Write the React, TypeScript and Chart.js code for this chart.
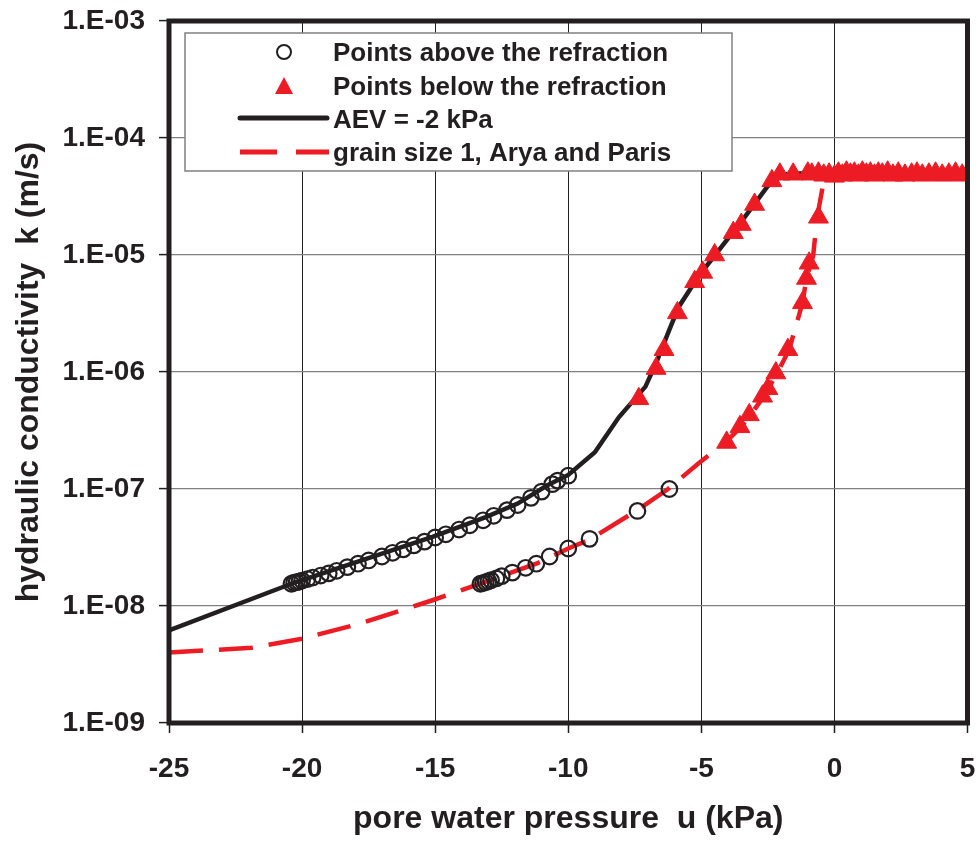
import React, { useEffect, useRef } from 'react';
import { Chart, registerables } from 'chart.js';

Chart.register(...registerables);

const INK = '#231f20';
const RED = '#ed1c24';
const FONT = "'Liberation Sans', Arial, Helvetica, sans-serif";

// AEV = -2 kPa (black solid line)
const aevU = [-25, -20.3, -18.3, -15.1, -13.1, -11.9, -10.8, -10.0, -9.0, -8.1, -7.1, -6.7, -6.2, -5.85, -5.1, -4.25, -3.35, -2.5, -1.9, -1.1, 0, 5];
const aevK = [6.2e-9, 1.58e-8, 2.24e-8, 3.9e-8, 5.75e-8, 7.5e-8, 1.07e-7, 1.32e-7, 2.06e-7, 4.1e-7, 7.5e-7, 1.19e-6, 2.3e-6, 3.6e-6, 6.6e-6, 1.17e-5, 2.14e-5, 3.9e-5, 4.9e-5, 5.0e-5, 4.8e-5, 4.75e-5];

// grain size 1, Arya and Paris (red dashed line)
const apU = [-25, -21.9, -20.0, -17.8, -15.1, -13.3, -12.1, -11.2, -10.0, -9.2, -7.45, -6.25, -5.1, -4.1, -3.5, -3.15, -2.65, -2.15, -1.7, -1.2, -1.05, -0.8, -0.65, -0.4, -0.3, 5];
const apK = [4.0e-9, 4.4e-9, 5.25e-9, 7.1e-9, 1.12e-8, 1.55e-8, 1.95e-8, 2.3e-8, 3.1e-8, 3.7e-8, 6.5e-8, 1.0e-7, 1.66e-7, 2.5e-7, 3.4e-7, 4.3e-7, 6.2e-7, 9.8e-7, 1.55e-6, 3.9e-6, 6.3e-6, 9.8e-6, 2.1e-5, 4.3e-5, 4.6e-5, 4.6e-5];

// Points above the refraction (open circles)
const aboveU = [
  -20.4, -20.3, -20.2, -20.1, -20.0, -19.8, -19.6, -19.3, -19.0, -18.7, -18.3, -17.9, -17.5, -17.0, -16.6, -16.2,
  -15.8, -15.4, -15.0, -14.6, -14.1, -13.7, -13.2, -12.8, -12.3, -11.9, -11.4, -11.0, -10.6, -10.4, -10.0,
  -13.3, -13.2, -13.1, -13.0, -12.9, -12.7, -12.5, -12.1, -11.6, -11.2, -10.7, -10.0, -9.2, -7.4, -6.2,
];
const aboveK = [
  1.55e-8, 1.58e-8, 1.6e-8, 1.62e-8, 1.65e-8, 1.7e-8, 1.75e-8, 1.82e-8, 1.9e-8, 2.0e-8, 2.15e-8, 2.3e-8, 2.45e-8, 2.65e-8, 2.85e-8, 3.05e-8,
  3.3e-8, 3.55e-8, 3.85e-8, 4.1e-8, 4.5e-8, 4.9e-8, 5.4e-8, 5.9e-8, 6.6e-8, 7.3e-8, 8.4e-8, 9.5e-8, 1.1e-7, 1.18e-7, 1.3e-7,
  1.55e-8, 1.57e-8, 1.6e-8, 1.63e-8, 1.66e-8, 1.72e-8, 1.8e-8, 1.93e-8, 2.12e-8, 2.3e-8, 2.65e-8, 3.1e-8, 3.75e-8, 6.5e-8, 1.0e-7,
];

// Points below the refraction (red triangles)
const belowU = [
  -7.35, -6.7, -6.4, -5.9, -5.25, -4.95, -4.5, -3.8, -3.5, -3.0, -2.35, -2.05, -1.55,
  -4.05, -3.55, -3.2, -2.7, -2.5, -2.2, -1.75, -1.2, -1.05, -0.95, -0.6,
  -1.0, -0.85, -0.6, -0.4, -0.2, 0.0, 0.15, 0.3, 0.45, 0.6, 0.75, 0.9, 1.05, 1.2, 1.35, 1.5, 1.65, 1.8, 2.0,
  2.2, 2.4, 2.65, 2.9, 3.1, 3.3, 3.55, 3.8, 4.05, 4.3, 4.55, 4.8, 5.0,
];
const belowK = [
  5.9e-7, 1.07e-6, 1.55e-6, 3.2e-6, 5.9e-6, 7.1e-6, 1.0e-5, 1.55e-5, 1.82e-5, 2.7e-5, 4.3e-5, 4.9e-5, 4.9e-5,
  2.5e-7, 3.4e-7, 4.3e-7, 6.2e-7, 7.2e-7, 9.8e-7, 1.55e-6, 3.9e-6, 6.3e-6, 8.5e-6, 2.1e-5,
  5.0e-5, 4.9e-5, 5.0e-5, 4.8e-5, 4.9e-5, 4.7e-5, 5.0e-5, 4.8e-5, 5.1e-5, 4.9e-5, 5.0e-5, 4.8e-5, 5.1e-5, 4.9e-5, 5.0e-5, 4.8e-5, 5.0e-5, 4.9e-5, 5.1e-5,
  4.8e-5, 5.0e-5, 4.8e-5, 4.9e-5, 5.0e-5, 4.8e-5, 4.9e-5, 5.0e-5, 4.8e-5, 4.9e-5, 5.0e-5, 4.8e-5, 4.9e-5,
];

const yTicks = [1e-9, 1e-8, 1e-7, 1e-6, 1e-5, 1e-4, 1e-3];
const yTickLabels = ['1.E-09', '1.E-08', '1.E-07', '1.E-06', '1.E-05', '1.E-04', '1.E-03'];

const legendLabels = [
  'Points above the refraction',
  'Points below the refraction',
  'AEV = -2 kPa',
  'grain size 1, Arya and Paris',
];

const pts = (us: number[], ks: number[]) => us.map((u, i) => ({ x: u, y: ks[i] }));

const framePlugin = {
  id: 'plotFrame',
  afterDatasetsDraw(chart: any) {
    const { ctx, chartArea: a } = chart;
    ctx.save();
    ctx.strokeStyle = INK;
    ctx.lineWidth = 5;
    ctx.strokeRect(a.left, a.top, a.right - a.left, a.bottom - a.top);
    ctx.restore();
  },
};

const boxLegendPlugin = {
  id: 'boxLegend',
  afterDraw(chart: any) {
    const { ctx, chartArea: a } = chart;
    const x0 = a.left + 16;
    const y0 = a.top + 12;
    const w = 547;
    const h = 138;
    ctx.save();
    ctx.fillStyle = '#ffffff';
    ctx.fillRect(x0, y0, w, h);
    ctx.strokeStyle = '#808080';
    ctx.lineWidth = 1.5;
    ctx.strokeRect(x0, y0, w, h);
    const rows = [19, 53, 86, 119].map((d) => y0 + d);
    const mx = a.left + 115;
    const lx0 = a.left + 71;
    const lx1 = a.left + 158;
    // circle
    ctx.beginPath();
    ctx.strokeStyle = INK;
    ctx.lineWidth = 2;
    ctx.arc(mx, rows[0], 7, 0, Math.PI * 2);
    ctx.stroke();
    // triangle
    ctx.beginPath();
    ctx.fillStyle = RED;
    ctx.moveTo(mx, rows[1] - 9);
    ctx.lineTo(mx + 9, rows[1] + 8);
    ctx.lineTo(mx - 9, rows[1] + 8);
    ctx.closePath();
    ctx.fill();
    // black line
    ctx.beginPath();
    ctx.strokeStyle = INK;
    ctx.lineWidth = 5;
    ctx.lineCap = 'round';
    ctx.moveTo(lx0, rows[2] - 1);
    ctx.lineTo(lx1, rows[2] - 1);
    ctx.stroke();
    // red dash
    ctx.beginPath();
    ctx.strokeStyle = RED;
    ctx.lineCap = 'butt';
    ctx.lineWidth = 5;
    ctx.moveTo(lx0, rows[3]);
    ctx.lineTo(lx0 + 37, rows[3]);
    ctx.moveTo(lx0 + 56, rows[3]);
    ctx.lineTo(lx1 + 2, rows[3]);
    ctx.stroke();
    // texts
    ctx.fillStyle = INK;
    ctx.font = `bold 26px ${FONT}`;
    ctx.textAlign = 'left';
    ctx.textBaseline = 'alphabetic';
    legendLabels.forEach((t, i) => {
      ctx.fillText(t, a.left + 164, rows[i] + 9);
    });
    ctx.restore();
  },
};

export default function App() {
  const ref = useRef<HTMLCanvasElement | null>(null);

  useEffect(() => {
    const canvas = ref.current;
    if (!canvas) return;
    const chart = new Chart(canvas, {
      type: 'scatter',
      data: {
        datasets: [
          {
            label: legendLabels[1],
            data: pts(belowU, belowK),
            showLine: false,
            pointStyle: 'triangle',
            pointRadius: 11.5,
            pointBackgroundColor: RED,
            pointBorderColor: RED,
            pointBorderWidth: 1,
            order: 0,
          },
          {
            label: legendLabels[0],
            data: pts(aboveU, aboveK),
            showLine: false,
            pointStyle: 'circle',
            pointRadius: 7.8,
            pointBackgroundColor: 'rgba(0,0,0,0)',
            pointBorderColor: INK,
            pointBorderWidth: 2.2,
            order: 1,
          },
          {
            label: legendLabels[3],
            data: pts(apU, apK),
            showLine: true,
            borderColor: RED,
            borderWidth: 4.5,
            borderDash: [34, 16],
            pointRadius: 0,
            tension: 0,
            order: 2,
          },
          {
            label: legendLabels[2],
            data: pts(aevU, aevK),
            showLine: true,
            borderColor: INK,
            borderWidth: 4.5,
            pointRadius: 0,
            tension: 0,
            order: 3,
          },
        ],
      },
      options: {
        animation: false,
        responsive: false,
        maintainAspectRatio: false,
        devicePixelRatio: 1,
        layout: { padding: { top: 21, right: 12, left: 0, bottom: 0 } },
        plugins: {
          legend: { display: false },
          tooltip: { enabled: false },
        },
        scales: {
          x: {
            type: 'linear',
            min: -25,
            max: 5,
            afterFit(s: any) {
              s.height = 119;
              s.paddingLeft = 0;
              s.paddingRight = 0;
            },
            ticks: {
              stepSize: 5,
              color: INK,
              padding: 19,
              font: { family: FONT, size: 28, weight: 'bold' },
              callback: (v: any) => String(v),
            },
            grid: { color: INK, lineWidth: 1, tickLength: 10, tickColor: INK, tickWidth: 1.5 },
            border: { display: false },
            title: {
              display: true,
              text: 'pore water pressure  u (kPa)',
              color: INK,
              font: { family: FONT, size: 32, weight: 'bold' },
              padding: { top: 0, bottom: 4 },
            },
          },
          y: {
            type: 'logarithmic',
            min: 1e-9,
            max: 1e-3,
            afterFit(s: any) {
              s.width = 169;
              s.paddingTop = 0;
              s.paddingBottom = 0;
            },
            afterBuildTicks(s: any) {
              s.ticks = yTicks.map((v) => ({ value: v }));
            },
            ticks: {
              color: INK,
              padding: 14,
              font: { family: FONT, size: 28, weight: 'bold' },
              callback: (v: any) => {
                const idx = yTicks.findIndex((t) => Math.abs(Math.log10(t) - Math.log10(Number(v))) < 1e-6);
                return idx >= 0 ? yTickLabels[idx] : '';
              },
            },
            grid: { color: '#808080', lineWidth: 1.2, tickLength: 10, tickColor: INK, tickWidth: 1.5 },
            border: { display: false },
            title: {
              display: true,
              text: 'hydraulic conductivity  k (m/s)',
              color: INK,
              font: { family: FONT, size: 32, weight: 'bold' },
              padding: { top: 10, bottom: 0 },
            },
          },
        },
      } as any,
      plugins: [framePlugin, boxLegendPlugin],
    });
    return () => chart.destroy();
  }, []);

  return (
    <div style={{ position: 'fixed', left: 0, top: 0, width: 980, height: 842, background: '#ffffff' }}>
      <canvas ref={ref} width={980} height={842} style={{ display: 'block', width: 980, height: 842 }} />
    </div>
  );
}
